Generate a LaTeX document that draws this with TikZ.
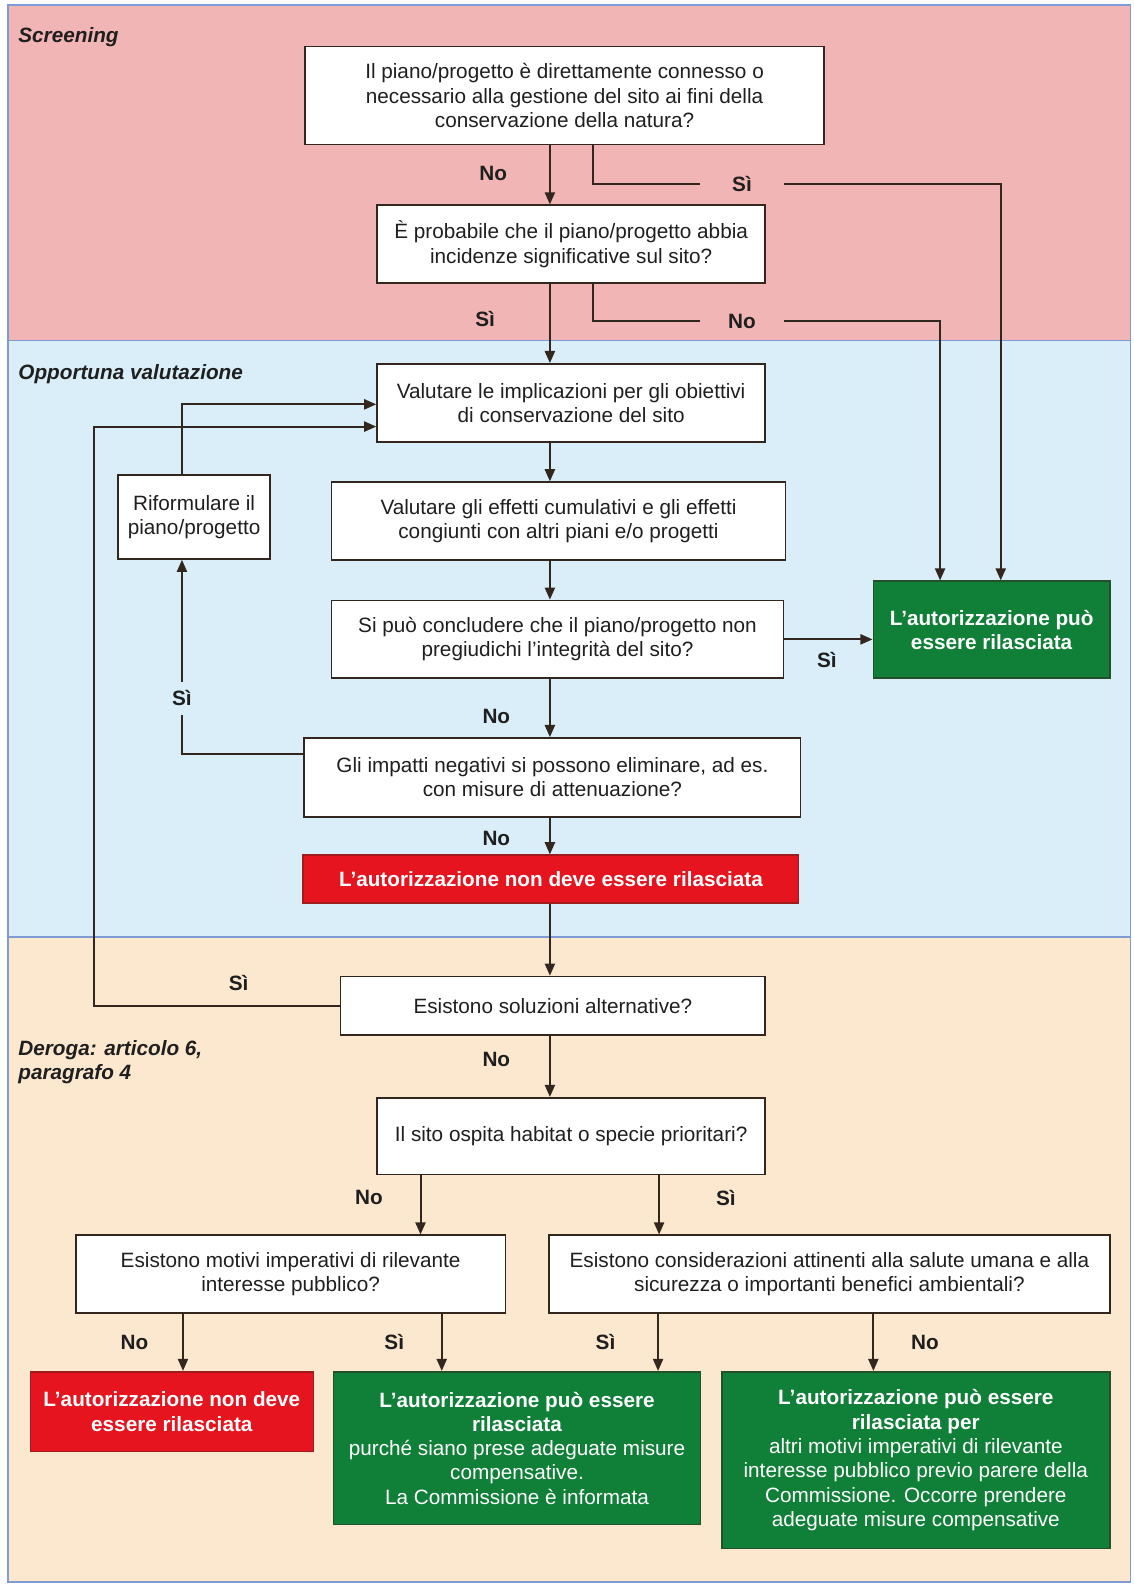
\documentclass[tikz,border=0pt]{standalone}
\usepackage{fontspec}
\setmainfont{Liberation Sans}
\usetikzlibrary{arrows.meta,calc}
\definecolor{pinkband}{HTML}{F2B5B5}
\definecolor{blueband}{HTML}{D9EEF8}
\definecolor{beigeband}{HTML}{FCE7CF}
\definecolor{framecol}{HTML}{7F9BD6}
\definecolor{okgreen}{HTML}{108038}
\definecolor{nored}{HTML}{E6141E}
\definecolor{lncol}{HTML}{33261E}
\begin{document}
\begin{tikzpicture}[x=1pt,y=-1pt,
  box/.style={draw=lncol, line width=1.6pt, fill=white, align=center, inner sep=0pt,
    font=\fontsize{20.5}{24}\selectfont, text=black!88},
  gbox/.style={draw=lncol!55!okgreen, line width=1.6pt, fill=okgreen, align=center, inner sep=0pt,
    font=\fontsize{20.5}{24}\selectfont, text=white},
  rbox/.style={draw=lncol!40!nored, line width=1.6pt, fill=nored, align=center, inner sep=0pt,
    font=\fontsize{20.5}{24}\selectfont\bfseries, text=white},
  lab/.style={font=\fontsize{20.5}{24}\selectfont\bfseries, text=black!88, inner sep=0pt},
  seclab/.style={font=\fontsize{20.5}{24}\selectfont\bfseries\itshape, text=black!88, anchor=west, align=left, inner sep=0pt},
  conn/.style={draw=lncol, line width=2pt},
  arr/.style={conn, -{Triangle[length=12pt,width=10pt]}}]
\useasboundingbox (0,0) rectangle (1121,1568);
% bands
\fill[pinkband] (8,5) rectangle (1118,337);
\fill[blueband] (8,337) rectangle (1118,927);
\fill[beigeband] (8,927) rectangle (1118,1565);
\draw[framecol, line width=1.2pt] (8,5) rectangle (1118,1565);
\draw[framecol, line width=1.2pt] (8,337) -- (1118,337);
\draw[framecol, line width=1.2pt] (8,927) -- (1118,927);
\node[seclab] (s1) at (18,37) {Screening};
\node[seclab] (s2) at (18,370) {Opportuna valutazione};
\node[seclab] (s3) at (18,1051) {Deroga: articolo 6,\\paragrafo 4};
% boxes
\node[box, minimum width=513, minimum height=97] (b1) at (558.5,94.5)
  {Il piano/progetto è direttamente connesso o\\necessario alla gestione del sito ai fini della\\conservazione della natura?};
\node[box, minimum width=384, minimum height=77] (b2) at (565,241.5)
  {È probabile che il piano/progetto abbia\\incidenze significative sul sito?};
\node[box, minimum width=384, minimum height=77] (b3) at (565,398.5)
  {Valutare le implicazioni per gli obiettivi\\di conservazione del sito};
\node[box, minimum width=449, minimum height=77] (b4) at (552.5,515.5)
  {Valutare gli effetti cumulativi e gli effetti\\congiunti con altri piani e/o progetti};
\node[box, minimum width=447, minimum height=77] (b5) at (551.5,632.5)
  {Si può concludere che il piano/progetto non\\pregiudichi l’integrità del sito?};
\node[box, minimum width=150, minimum height=83] (rif) at (192,511.5)
  {Riformulare il\\piano/progetto};
\node[gbox, minimum width=234, minimum height=96, font=\fontsize{20.5}{24}\selectfont\bfseries] (g1) at (981,623)
  {L’autorizzazione può\\essere rilasciata};
\node[box, minimum width=491, minimum height=78] (b6) at (546.5,769)
  {Gli impatti negativi si possono eliminare, ad es.\\con misure di attenuazione?};
\node[rbox, minimum width=490, minimum height=47] (r1) at (545,869.5)
  {L’autorizzazione non deve essere rilasciata};
\node[box, minimum width=420, minimum height=58] (b7) at (547,995)
  {Esistono soluzioni alternative?};
\node[box, minimum width=384, minimum height=76] (b8) at (565,1124)
  {Il sito ospita habitat o specie prioritari?};
\node[box, minimum width=425, minimum height=77] (b9) at (287.5,1260.5)
  {Esistono motivi imperativi di rilevante\\interesse pubblico?};
\node[box, minimum width=555, minimum height=77] (b10) at (820.5,1260.5)
  {Esistono considerazioni attinenti alla salute umana e alla\\sicurezza o importanti benefici ambientali?};
\node[rbox, minimum width=280, minimum height=79] (r2) at (170,1396.5)
  {L’autorizzazione non deve\\essere rilasciata};
\node[gbox, minimum width=363, minimum height=151] (g2) at (511.5,1432.5)
  {\textbf{L’autorizzazione può essere}\\\textbf{rilasciata}\\purché siano prese adeguate misure\\compensative.\\La Commissione è informata};
\node[gbox, minimum width=384, minimum height=175] (g3) at (906,1444.5)
  {\textbf{L’autorizzazione può essere}\\\textbf{rilasciata per}\\altri motivi imperativi di rilevante\\interesse pubblico previo parere della\\Commissione. Occorre prendere\\adeguate misure compensative};
% helper coordinates
\coordinate (ax) at (544,0);
\coordinate (br) at (587,0);
\coordinate (x990) at (990,0);
\coordinate (x930) at (930,0);
\coordinate (y746) at (0,746);
\coordinate (y400) at (180,400);
\coordinate (lp) at (93,422);
\coordinate (x416) at (416,0);
\coordinate (x652) at (652,0);
\coordinate (x181) at (181,0);
\coordinate (x437) at (437,0);
\coordinate (x651) at (651,0);
\coordinate (x864) at (864,0);
% labels
\node[lab] (lno1) at (488,172) {No};
\node[lab, minimum width=82, minimum height=20] (lsi1) at (734,182) {Sì};
\node[lab] (lsi2) at (480,316) {Sì};
\node[lab, minimum width=82, minimum height=20] (lno2) at (734,318) {No};
\node[lab] (lsi3) at (818,653) {Sì};
\node[lab] (lno3) at (491,709) {No};
\node[lab, minimum height=32] (lsi4) at (180,691) {Sì};
\node[lab] (lno4) at (491,829) {No};
\node[lab] (lsi5) at (236,972) {Sì};
\node[lab] (lno5) at (491,1048) {No};
\node[lab] (lno6) at (365,1185) {No};
\node[lab] (lsi6) at (718,1185) {Sì};
\node[lab] (lno7) at (133,1328) {No};
\node[lab] (lsi7) at (390,1328) {Sì};
\node[lab] (lsi8) at (599,1328) {Sì};
\node[lab] (lno8) at (915,1328) {No};
% connectors
\draw[arr] (b1.south -| ax) -- (b2.north -| ax);
\draw[conn] (b1.south -| br) |- (lsi1.west);
\draw[arr] (lsi1.east) -| (g1.north -| x990);
\draw[arr] (b2.south -| ax) -- (b3.north -| ax);
\draw[conn] (b2.south -| br) |- (lno2.west);
\draw[arr] (lno2.east) -| (g1.north -| x930);
\draw[arr] (b3.south -| ax) -- (b4.north -| ax);
\draw[arr] (b4.south -| ax) -- (b5.north -| ax);
\draw[arr] (b5.east) -- (b5.east -| g1.west);
\draw[arr] (b5.south -| ax) -- (b6.north -| ax);
\draw[conn] (b6.west |- y746) -| (lsi4.south);
\draw[arr] (lsi4.north) -- (rif.south -| lsi4.north);
\draw[arr] (rif.north -| y400) -- (y400) -- (y400 -| b3.west);
\draw[arr] (b7.west) -| (lp) -- (lp -| b3.west);
\draw[arr] (b6.south -| ax) -- (r1.north -| ax);
\draw[arr] (r1.south -| ax) -- (b7.north -| ax);
\draw[arr] (b7.south -| ax) -- (b8.north -| ax);
\draw[arr] (b8.south -| x416) -- (b9.north -| x416);
\draw[arr] (b8.south -| x652) -- (b10.north -| x652);
\draw[arr] (b9.south -| x181) -- (r2.north -| x181);
\draw[arr] (b9.south -| x437) -- (g2.north -| x437);
\draw[arr] (b10.south -| x651) -- (g2.north -| x651);
\draw[arr] (b10.south -| x864) -- (g3.north -| x864);
\end{tikzpicture}
\end{document}
